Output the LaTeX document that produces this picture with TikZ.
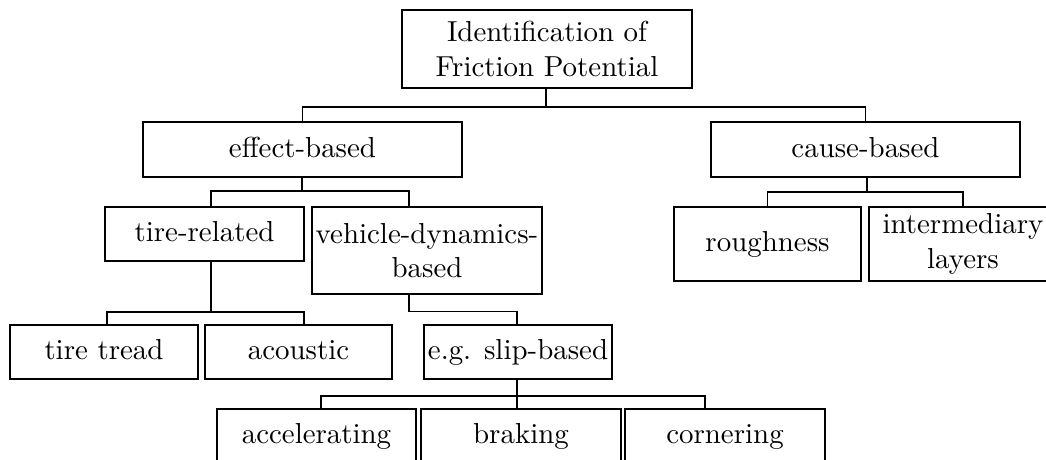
\documentclass[tikz,border=0pt]{standalone}
\usetikzlibrary{calc}
\begin{document}
\begin{tikzpicture}[x=0.346pt,y=-0.346pt,
  box/.style={draw,line width=0.45pt,inner sep=0pt,align=center},
  onebox/.style={box,text height=1.5ex,text depth=.25ex},
  sz/.style 2 args={minimum width=#1*0.346pt,minimum height=#2*0.346pt},
  conn/.style={draw,line width=0.45pt}]
\path[use as bounding box] (0,0) rectangle (1046,459);
\clip (0,0) rectangle (1046,459);
% nodes
\node[box,sz={290}{78}] (top) at (547,49) {Identification of\\Friction Potential};
\node[onebox,sz={319}{55}] (eff) at (302.5,149.5) {effect-based};
\node[onebox,sz={309}{55}] (cause) at (865.5,149.5) {cause-based};
\node[onebox,sz={199}{54}] (tire) at (204.5,234) {tire-related};
\node[box,sz={230}{87}] (veh) at (427,250.5) {vehicle-dynamics-\\based};
\node[onebox,sz={187}{74}] (rough) at (767.5,244) {roughness};
\node[box,sz={188}{74}] (inter) at (963,244) {intermediary\\layers};
\node[onebox,sz={188}{54}] (tread) at (104,352) {tire tread};
\node[onebox,sz={187}{54}] (acou) at (298.5,352) {acoustic};
\node[onebox,sz={188}{54}] (slip) at (518,352) {e.g. slip-based};
\node[onebox,sz={199}{54}] (acc) at (316.5,436) {accelerating};
\node[onebox,sz={200}{54}] (brak) at (521,436) {braking};
\node[onebox,sz={200}{54}] (corn) at (725,436) {cornering};
% connectors
\coordinate (b1) at (546,107);
\draw[conn] (b1 |- top.south) -- (b1);
\draw[conn] (eff.north) |- (b1) -| (cause.north);
\coordinate (b2) at (302,191);
\draw[conn] (b2 |- eff.south) -- (b2);
\draw[conn] ($(tire.north)+(6.5,0)$) |- (b2) -| ($(veh.north)+(-18,0)$);
\draw[conn] ($(veh.south)+(-18,0)$) -- ++(0,17) -| ($(slip.north)+(-1,0)$);
\coordinate (b4) at (211,312);
\draw[conn] (b4 |- tire.south) -- (b4);
\draw[conn] ($(tread.north)+(3,0)$) |- (b4) -| ($(acou.north)+(5.5,0)$);
\coordinate (b5) at (517,396);
\draw[conn] (b5 |- slip.south) -- (b5);
\draw[conn] ($(acc.north)+(4.5,0)$) |- (b5) -| ($(corn.north)+(-20,0)$);
\draw[conn] (b5) -- (b5 |- brak.north);
\coordinate (b6) at (867,192);
\draw[conn] (b6 |- cause.south) -- (b6);
\draw[conn] (rough.north) |- (b6) -| (inter.north);
\end{tikzpicture}
\end{document}
